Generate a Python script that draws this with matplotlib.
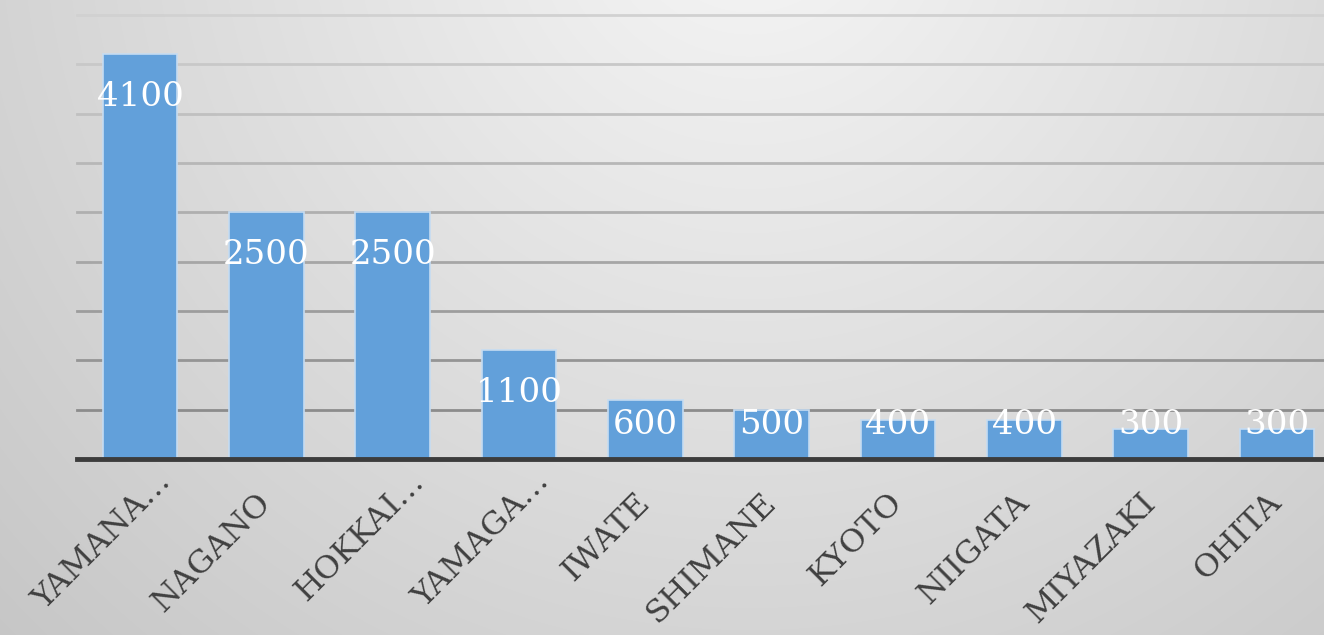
import numpy as np
from matplotlib import pyplot as plt
from matplotlib.transforms import ScaledTranslation

prefectures = ['YAMANA…', 'NAGANO', 'HOKKAI…', 'YAMAGA…', 'IWATE',
               'SHIMANE', 'KYOTO', 'NIIGATA', 'MIYAZAKI', 'OHITA']
counts = [4100, 2500, 2500, 1100, 600, 500, 400, 400, 300, 300]
grid_levels = [500, 1000, 1500, 2000, 2500, 3000, 3500, 4000, 4500]

W, H = 1324, 635
fig = plt.figure(figsize=(W / 100, H / 100), dpi=100)

# gradient background
bg = fig.add_axes([0, 0, 1, 1])
yy, xx = np.mgrid[0:H, 0:W]
d = np.hypot(xx - 750, yy + 100)
shade = np.clip(0.965 - 0.16 * d / 900, 0.76, 1)
bg.imshow(np.dstack([shade] * 3), aspect='auto', extent=(0, 1, 0, 1))
bg.axis('off')

ax = fig.add_axes([77 / W, 176 / H, 1263 / W, 444 / H])
ax.patch.set_alpha(0)
x = np.arange(len(counts))
ax.bar(x, counts, width=0.59, color='#62a0da', edgecolor='#c5dcf2', linewidth=1.2, zorder=3)
ax.set_xlim(-0.5, len(counts) - 0.5)
ax.set_ylim(0, 4500)

# gridlines get lighter towards the top
for i, g in enumerate(grid_levels):
    c = 0.55 + 0.27 * i / (len(grid_levels) - 1)
    ax.axhline(g, color=(c, c, c), linewidth=2, zorder=1, clip_on=False)
ax.axhline(0, color='#3c3c3c', linewidth=3.5, zorder=4, clip_on=False)

for i, v in enumerate(counts):
    ax.text(i, max(v - 430, 340), str(v), ha='center', va='center', color='white',
            fontsize=24.5, family='DejaVu Serif', zorder=5)

for s in ax.spines.values():
    s.set_visible(False)
ax.set_yticks([])
ax.set_xticks(x)
ax.set_xticklabels(prefectures, rotation=45, ha='right', va='center', rotation_mode='anchor',
                   fontsize=23, family='DejaVu Serif', color='#404040')
ax.tick_params(axis='x', length=0, pad=28)
# truncated names: the dots hang past the anchor like in excel
for lab in ax.get_xticklabels():
    if lab.get_text().endswith('…'):
        lab.set_transform(lab.get_transform() + ScaledTranslation(0.26, 0.21, fig.dpi_scale_trans))

fig.savefig('out.png', dpi=100)
